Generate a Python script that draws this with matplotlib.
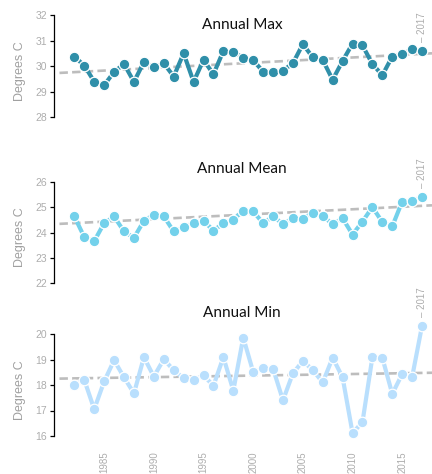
import matplotlib
matplotlib.use("Agg")
import matplotlib.pyplot as plt

years = list(range(1982, 2018))

annual_max = [30.38, 30.03, 29.40, 29.26, 29.78, 30.09, 29.39, 30.17, 29.96, 30.12,
              29.60, 30.51, 29.39, 30.25, 29.69, 30.60, 30.55, 30.34, 30.24, 29.79,
              29.79, 29.83, 30.12, 30.87, 30.35, 30.25, 29.47, 30.21, 30.89, 30.82,
              30.09, 29.65, 30.38, 30.48, 30.66, 30.60]
annual_mean = [24.63, 23.82, 23.66, 24.37, 24.63, 24.04, 23.79, 24.46, 24.70, 24.64,
               24.04, 24.21, 24.37, 24.47, 24.07, 24.37, 24.51, 24.86, 24.83, 24.37,
               24.63, 24.34, 24.56, 24.54, 24.78, 24.66, 24.32, 24.56, 23.92, 24.43,
               25.00, 24.41, 24.24, 25.22, 25.24, 25.40]
annual_min = [18.00, 18.20, 17.05, 18.14, 18.97, 18.30, 17.67, 19.09, 18.33, 19.01,
              18.58, 18.26, 18.18, 18.38, 17.97, 19.09, 17.78, 19.86, 18.51, 18.65,
              18.64, 17.40, 18.46, 18.94, 18.59, 18.10, 19.07, 18.30, 16.12, 16.54,
              19.09, 19.07, 17.65, 18.43, 18.31, 20.33]

# trend lines, end points
trend_years = [1980.5, 2018.0]
trend_max = [29.74, 30.51]
trend_mean = [24.34, 25.07]
trend_min = [18.25, 18.48]

titles = ["Annual Max", "Annual Mean", "Annual Min"]
ylims = [(28, 32), (22, 26), (16, 20)]
colors = ["#2f8fa9", "#73d1eb", "#b9dffd"]
xtick_years = [1985, 1990, 1995, 2000, 2005, 2010, 2015]

W, H = 432, 474
fig = plt.figure(figsize=(W / 100, H / 100), dpi=100)

# panel pixel positions (top, bottom) and title y
panels = [(15.3, 117.3, 25), (181.7, 283.3, 169), (334, 436, 313)]
left_px, right_px = 53.5, 432
GRAY = "#adadad"
series = [(annual_max, trend_max), (annual_mean, trend_mean), (annual_min, trend_min)]

for i, ((top, bot, ty), (vals, trend)) in enumerate(zip(panels, series)):
    ax = fig.add_axes([left_px / W, 1 - bot / H, (right_px - left_px) / W, (bot - top) / H])
    ax.set_xlim(1979.9, 2018.0)
    ax.set_ylim(*ylims[i])
    ax.patch.set_alpha(0)

    ax.plot(trend_years, trend, color="#bdbdbd", lw=1.9, dashes=(3.2, 1.6),
            clip_on=False, zorder=1)
    ax.plot(years, vals, color=colors[i], lw=3.0, marker="o", ms=7.6,
            mfc=colors[i], mec="white", mew=0.9, clip_on=False, zorder=2)

    ax.annotate("\u2013 2017", xy=(years[-1], vals[-1]), xytext=(0, 6.5),
                textcoords="offset points", rotation=90, ha="center", va="bottom",
                fontsize=7, color=GRAY, family="Liberation Sans",
                annotation_clip=False)

    for s in ["top", "right", "bottom"]:
        ax.spines[s].set_visible(False)
    ax.spines["left"].set_color("black")
    ax.spines["left"].set_linewidth(0.9)
    ax.set_yticks(range(ylims[i][0], ylims[i][1] + 1))
    ax.tick_params(axis="y", direction="out", length=2.6, width=0.9, color="black",
                   labelcolor=GRAY, labelsize=7.5, pad=2)
    for lab in ax.get_yticklabels():
        lab.set_family("Liberation Sans")

    if i == 2:
        ax.set_xticks(xtick_years)
        ax.set_xticklabels([str(y) for y in xtick_years], rotation=90,
                           family="Liberation Sans")
        ax.tick_params(axis="x", length=0, pad=11, labelsize=7, labelcolor=GRAY)
        for lab in ax.get_xticklabels():
            lab.set_va("top")
    else:
        ax.set_xticks([])

    fig.text(19.5 / W, 1 - ((top + bot) / 2 + 5) / H, "Degrees C", rotation=90,
             ha="center", va="center", fontsize=9, color="#a0a0a0",
             family="Liberation Sans")
    fig.text(242 / W, 1 - ty / H, titles[i], ha="center", va="center",
             fontsize=11, color="#111111", family="Lato")

fig.savefig("out.png", dpi=100)
